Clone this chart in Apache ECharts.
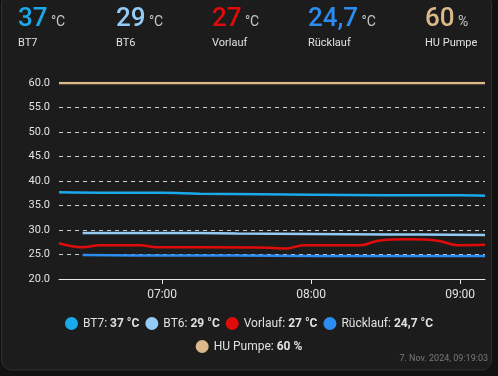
<!DOCTYPE html>
<html>
<head>
<meta charset="utf-8">
<script src="https://cdn.jsdelivr.net/npm/echarts@6/dist/echarts.min.js"></script>
<style>
  html, body { margin: 0; padding: 0; background: #111111; }
  #main { width: 498px; height: 376px; }
</style>
</head>
<body>
<div id="main"></div>
<script>
// header / legend
var names = ['BT7', 'BT6', 'Vorlauf', 'Rücklauf', 'HU Pumpe'];
var units = ['°C', '°C', '°C', '°C', '%'];
var current = ['37', '29', '27', '24,7', '60'];
var colors = ['#1aa9ea', '#94cbf5', '#e00b0b', '#2d8cf0', '#dcb98a'];
var headerX = [18, 116, 212, 308, 425];

// series data (time, value)
var bt7Times = ['06:18:30', '06:40', '07:00', '07:15', '07:40', '08:00', '08:30', '09:00', '09:10'];
var bt7Values = [37.7, 37.6, 37.6, 37.4, 37.3, 37.2, 37.1, 37.1, 37.0];

var bt6Times = ['06:28', '07:00', '07:30', '08:00', '08:30', '09:10'];
var bt6Values = [29.4, 29.4, 29.3, 29.2, 29.1, 29.0];

var vorTimes = ['06:18:30', '06:28', '06:35', '06:51', '06:58', '07:15', '07:43', '07:50', '07:57',
                '08:20', '08:27', '08:39', '08:51', '08:59', '09:10'];
var vorValues = [27.3, 26.5, 26.9, 26.9, 26.5, 26.5, 26.4, 26.2, 26.9,
                 26.9, 27.8, 28.1, 27.8, 26.9, 27.0];

var rueTimes = ['06:28', '07:00', '07:30', '08:00', '08:30', '09:10'];
var rueValues = [24.9, 24.8, 24.8, 24.7, 24.7, 24.7];

var huTimes = ['06:18:30', '09:10'];
var huValues = [60, 60];

var yTicks = [20, 25, 30, 35, 40, 45, 50, 55, 60];

function toPairs(times, values) {
    var out = [];
    for (var i = 0; i < times.length; i++) {
        var t = times[i].length == 5 ? times[i] + ':00' : times[i];
        out.push([new Date('2024-11-07T' + t).getTime(), values[i]]);
    }
    return out;
}

var seriesData = [
    toPairs(bt7Times, bt7Values),
    toPairs(bt6Times, bt6Values),
    toPairs(vorTimes, vorValues),
    toPairs(rueTimes, rueValues),
    toPairs(huTimes, huValues)
];

var chart = echarts.init(document.getElementById('main'));

var graphics = [{
    type: 'rect',
    shape: { x: 1.5, y: -6, width: 490, height: 376, r: 10 },
    style: { fill: '#1c1c1c', stroke: '#2e2e2e', lineWidth: 1 },
    z: -10
}];
for (var i = 0; i < names.length; i++) {
    graphics.push({
        type: 'text', left: headerX[i], top: 6,
        style: {
            text: '{v|' + current[i] + '} {u|' + units[i] + '}',
            rich: {
                v: { fontSize: 26, fontFamily: 'Roboto', fill: colors[i], fontWeight: 500 },
                u: { fontSize: 14, fontFamily: 'Roboto', fill: '#c8c8c8', verticalAlign: 'bottom', padding: [0, 0, 3, 0] }
            }
        }
    });
    graphics.push({
        type: 'text', left: headerX[i], top: 38,
        style: { text: names[i], fontSize: 11, fontFamily: 'Roboto', fill: '#e1e1e1' }
    });
}
graphics.push({
    type: 'text', right: 10, top: 354,
    style: { text: '7. Nov. 2024, 09:19:03', fontSize: 9, fontFamily: 'Roboto', fill: '#7a7a7a' }
});

var legendValues = {};
for (var i = 0; i < names.length; i++) legendValues[names[i]] = current[i] + ' ' + units[i];

function legendBox(data, top) {
    return {
        data: data,
        left: 'center',
        top: top,
        icon: 'circle',
        itemWidth: 13,
        itemHeight: 13,
        itemGap: 6,
        textStyle: {
            color: '#e1e1e1', fontSize: 12, fontFamily: 'Roboto',
            rich: { b: { fontWeight: 'bold', color: '#e1e1e1', fontSize: 12, fontFamily: 'Roboto' } }
        },
        formatter: function (name) {
            return name + ': {b|' + legendValues[name] + '}';
        }
    };
}

var option = {
    backgroundColor: '#111111',
    animation: false,
    color: colors,
    graphic: graphics,
    grid: { left: 59, right: 13, top: 83, bottom: 97 },
    legend: [legendBox(names.slice(0, 4), 312), legendBox(names.slice(4), 335)],
    xAxis: {
        type: 'time',
        min: new Date('2024-11-07T06:18:30').getTime(),
        max: new Date('2024-11-07T09:10:00').getTime(),
        minInterval: 3600000,
        maxInterval: 3600000,
        axisLine: { lineStyle: { color: '#e8e8e8', width: 1 } },
        axisTick: { show: true, length: 5, lineStyle: { color: '#e8e8e8' } },
        axisLabel: {
            color: '#e1e1e1', fontSize: 12, fontFamily: 'Roboto', margin: 10,
            formatter: '{HH}:{mm}', showMinLabel: false, showMaxLabel: false
        },
        splitLine: { show: false }
    },
    yAxis: {
        type: 'value',
        min: yTicks[0],
        max: yTicks[yTicks.length - 1],
        interval: 5,
        axisLine: { show: false },
        axisTick: { show: false },
        axisLabel: {
            color: '#e1e1e1', fontSize: 11, fontFamily: 'Roboto', margin: 9,
            formatter: function (v) { return v.toFixed(1); }
        },
        splitLine: { lineStyle: { color: '#d0d0d0', type: [4, 4], width: 1 } }
    },
    series: names.map(function (n, i) {
        return {
            name: n,
            type: 'line',
            data: seriesData[i],
            smooth: 0.4,
            showSymbol: false,
            lineStyle: { width: 2.5, color: colors[i] },
            z: 5 - i
        };
    })
};

chart.setOption(option);
</script>
</body>
</html>
